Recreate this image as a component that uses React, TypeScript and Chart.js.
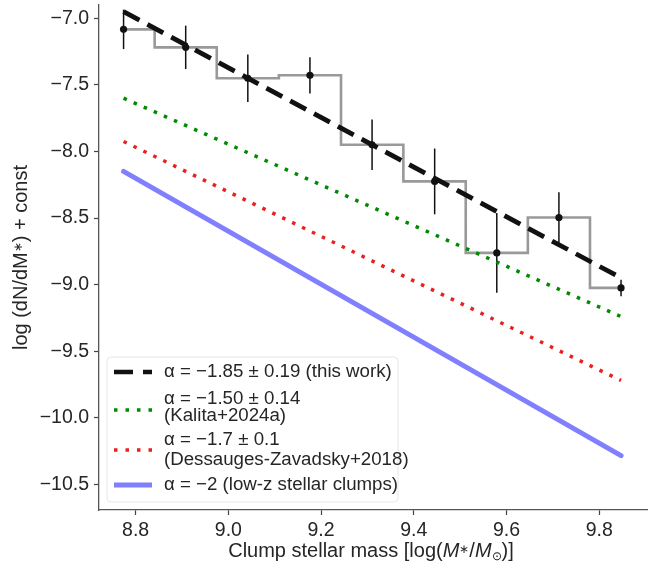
import React, { useEffect, useRef } from 'react';
import { Chart, registerables } from 'chart.js';

Chart.register(...registerables);

// ---------- data ----------
const massBins = [8.774, 8.908, 9.042, 9.176, 9.31, 9.445, 9.579, 9.713, 9.847];
const logDensity = [-7.083, -7.218, -7.45, -7.428, -7.95, -8.225, -8.762, -8.496, -9.025];
const logDensityErr = [0.148, 0.163, 0.178, 0.136, 0.19, 0.247, 0.3, 0.19, 0.062];

const fitMass = [8.774, 9.847];
const fitThisWork = [-6.95, -8.95];
const fitKalita = [-7.6, -9.24];
const fitDessauges = [-7.925, -9.72];
const fitLowZ = [-8.15, -10.285];

const xTicks = [8.8, 9.0, 9.2, 9.4, 9.6, 9.8];
const yTicks = [-7.0, -7.5, -8.0, -8.5, -9.0, -9.5, -10.0, -10.5];

const legendLines: string[][] = [
  ['α = −1.85 ± 0.19 (this work)'],
  ['α = −1.50 ± 0.14', '(Kalita+2024a)'],
  ['α = −1.7 ± 0.1', '(Dessauges-Zavadsky+2018)'],
  ['α = −2 (low-z stellar clumps)'],
];

// ---------- styles ----------
const FONT = '"Liberation Sans", Arial, Helvetica, sans-serif';
const TEXT = '#262626';
const COL_HIST = '#999999';
const COL_FIT = '#111111';
const COL_GREEN = '#008a00';
const COL_RED = '#e82020';
const COL_BLUE = '#8080ff';

const fmt = (v: number) => v.toFixed(1).replace('-', '−');

const toXY = (xs: number[], ys: number[]) => xs.map((x, i) => ({ x, y: ys[i] }));

type Seg = { t: string; font: string; dy?: number };

function drawSegs(ctx: CanvasRenderingContext2D, segs: Seg[], cx: number, y: number) {
  let w = 0;
  segs.forEach((s) => {
    ctx.font = s.font;
    w += ctx.measureText(s.t).width;
  });
  let x = cx - w / 2;
  segs.forEach((s) => {
    ctx.font = s.font;
    ctx.fillText(s.t, x, y + (s.dy || 0));
    x += ctx.measureText(s.t).width;
  });
}

const errorBarPlugin = {
  id: 'errorBars',
  afterDatasetDraw(chart: any, args: any) {
    if (args.index !== 0) return;
    const { ctx, scales } = chart;
    const x = scales.x;
    const y = scales.y;
    ctx.save();
    ctx.strokeStyle = COL_FIT;
    ctx.lineWidth = 1.5;
    massBins.forEach((m, i) => {
      const px = x.getPixelForValue(m);
      ctx.beginPath();
      ctx.moveTo(px, y.getPixelForValue(logDensity[i] + logDensityErr[i]));
      ctx.lineTo(px, y.getPixelForValue(logDensity[i] - logDensityErr[i]));
      ctx.stroke();
    });
    ctx.restore();
  },
};

const titlesPlugin = {
  id: 'titles',
  afterDraw(chart: any) {
    const { ctx, chartArea } = chart;
    const f = 20;
    const norm = `${f}px ${FONT}`;
    const ital = `italic ${f}px ${FONT}`;
    const small = `${Math.round(f * 0.6)}px ${FONT}`;
    ctx.save();
    ctx.fillStyle = TEXT;
    ctx.textBaseline = 'alphabetic';
    ctx.textAlign = 'left';
    const cx = (chartArea.left + chartArea.right) / 2 - 2;
    drawSegs(
      ctx,
      [
        { t: 'Clump stellar mass [log(', font: norm },
        { t: 'M', font: ital },
        { t: '∗', font: small, dy: -4 },
        { t: '/', font: norm },
        { t: 'M', font: ital },
        { t: '⊙', font: small, dy: 3 },
        { t: ')]', font: norm },
      ],
      cx,
      557
    );
    ctx.translate(27, (chartArea.top + chartArea.bottom) / 2);
    ctx.rotate(-Math.PI / 2);
    drawSegs(
      ctx,
      [
        { t: 'log (dN/dM', font: norm },
        { t: '∗', font: small, dy: -5 },
        { t: ') + const', font: norm },
      ],
      0,
      0
    );
    ctx.restore();
  },
};

const legendPlugin = {
  id: 'insetLegend',
  afterDraw(chart: any) {
    const { ctx, chartArea } = chart;
    const bx = chartArea.left + 8;
    const by = chartArea.bottom - 153;
    const bw = 291;
    const bh = 145;
    ctx.save();
    ctx.beginPath();
    (ctx as any).roundRect(bx, by, bw, bh, 4);
    ctx.fillStyle = 'rgba(255,255,255,0.85)';
    ctx.fill();
    ctx.strokeStyle = '#e6e6e6';
    ctx.lineWidth = 1;
    ctx.stroke();

    const hx0 = bx + 7;
    const hx1 = bx + 45;
    const handleY = [by + 15, by + 53, by + 93, by + 128];
    const textY = [[by + 15], [by + 42, by + 59], [by + 83, by + 103], [by + 128]];
    const styles = [
      { c: COL_FIT, w: 4.5, dash: [19, 10] },
      { c: COL_GREEN, w: 3.5, dash: [3.5, 8] },
      { c: COL_RED, w: 3.5, dash: [3.5, 8] },
      { c: COL_BLUE, w: 5, dash: [] as number[] },
    ];
    styles.forEach((s, i) => {
      ctx.beginPath();
      ctx.setLineDash(s.dash);
      ctx.strokeStyle = s.c;
      ctx.lineWidth = s.w;
      ctx.lineCap = 'butt';
      ctx.moveTo(hx0, handleY[i]);
      ctx.lineTo(hx1, handleY[i]);
      ctx.stroke();
    });
    ctx.setLineDash([]);
    ctx.fillStyle = TEXT;
    ctx.font = `18.7px ${FONT}`;
    ctx.textBaseline = 'middle';
    ctx.textAlign = 'left';
    legendLines.forEach((lines, i) => {
      lines.forEach((t, j) => ctx.fillText(t, bx + 57, textY[i][j]));
    });
    ctx.restore();
  },
};

export default function App() {
  const ref = useRef<HTMLCanvasElement>(null);
  useEffect(() => {
    const canvas = ref.current;
    if (!canvas) return;
    const tickFont = { family: FONT, size: 19.5 };
    const chart = new Chart(canvas, {
      type: 'line',
      data: {
        datasets: [
          {
            label: 'hist',
            data: toXY(massBins, logDensity),
            stepped: 'middle',
            borderColor: COL_HIST,
            borderWidth: 2.6,
            pointRadius: 0,
            fill: false,
            order: 10,
          },
          {
            label: 'points',
            data: toXY(massBins, logDensity),
            showLine: false,
            pointRadius: 3.6,
            pointBackgroundColor: COL_FIT,
            pointBorderColor: COL_FIT,
            pointBorderWidth: 0,
            order: 8,
          },
          {
            label: 'lowz',
            data: toXY(fitMass, fitLowZ),
            borderColor: COL_BLUE,
            borderWidth: 5,
            pointRadius: 0,
            borderCapStyle: 'round',
            order: 6,
          },
          {
            label: 'dessauges',
            data: toXY(fitMass, fitDessauges),
            borderColor: COL_RED,
            borderWidth: 3.5,
            borderDash: [3.5, 7.5],
            pointRadius: 0,
            order: 5,
          },
          {
            label: 'kalita',
            data: toXY(fitMass, fitKalita),
            borderColor: COL_GREEN,
            borderWidth: 3.5,
            borderDash: [3.5, 7.5],
            pointRadius: 0,
            order: 4,
          },
          {
            label: 'this work',
            data: toXY(fitMass, fitThisWork),
            borderColor: COL_FIT,
            borderWidth: 4.8,
            borderDash: [18, 9],
            pointRadius: 0,
            order: 1,
          },
        ],
      },
      options: {
        animation: false,
        responsive: true,
        maintainAspectRatio: false,
        layout: { padding: { top: 5, right: 8, left: 0, bottom: 0 } },
        plugins: { legend: { display: false }, tooltip: { enabled: false } },
        elements: { line: { tension: 0 } },
        scales: {
          x: {
            type: 'linear',
            min: 8.721,
            max: 9.903,
            afterBuildTicks: (s: any) => {
              s.ticks = xTicks.map((v) => ({ value: v }));
            },
            afterFit: (s: any) => {
              s.height = 54;
              s.paddingLeft = 0;
              s.paddingRight = 0;
            },
            ticks: { font: tickFont, color: TEXT, padding: 4, callback: (v: any) => fmt(Number(v)), maxRotation: 0 },
            grid: { display: true, drawOnChartArea: false, drawTicks: true, tickLength: 5, tickColor: '#444', tickWidth: 1.2 },
            border: { display: true, color: '#555', width: 1.3 },
          },
          y: {
            type: 'linear',
            min: -10.693,
            max: -6.9,
            afterBuildTicks: (s: any) => {
              s.ticks = yTicks.map((v) => ({ value: v }));
            },
            afterFit: (s: any) => {
              s.width = 99;
              s.paddingTop = 0;
              s.paddingBottom = 0;
            },
            ticks: { font: tickFont, color: TEXT, padding: 5, callback: (v: any) => fmt(Number(v)) },
            grid: { display: true, drawOnChartArea: false, drawTicks: true, tickLength: 5, tickColor: '#444', tickWidth: 1.2 },
            border: { display: true, color: '#555', width: 1.3 },
          },
        },
      },
      plugins: [errorBarPlugin, titlesPlugin, legendPlugin],
    } as any);
    return () => chart.destroy();
  }, []);
  return (
    <div style={{ position: 'fixed', left: 0, top: 0, width: 655, height: 564, background: '#fff' }}>
      <canvas ref={ref} />
    </div>
  );
}
